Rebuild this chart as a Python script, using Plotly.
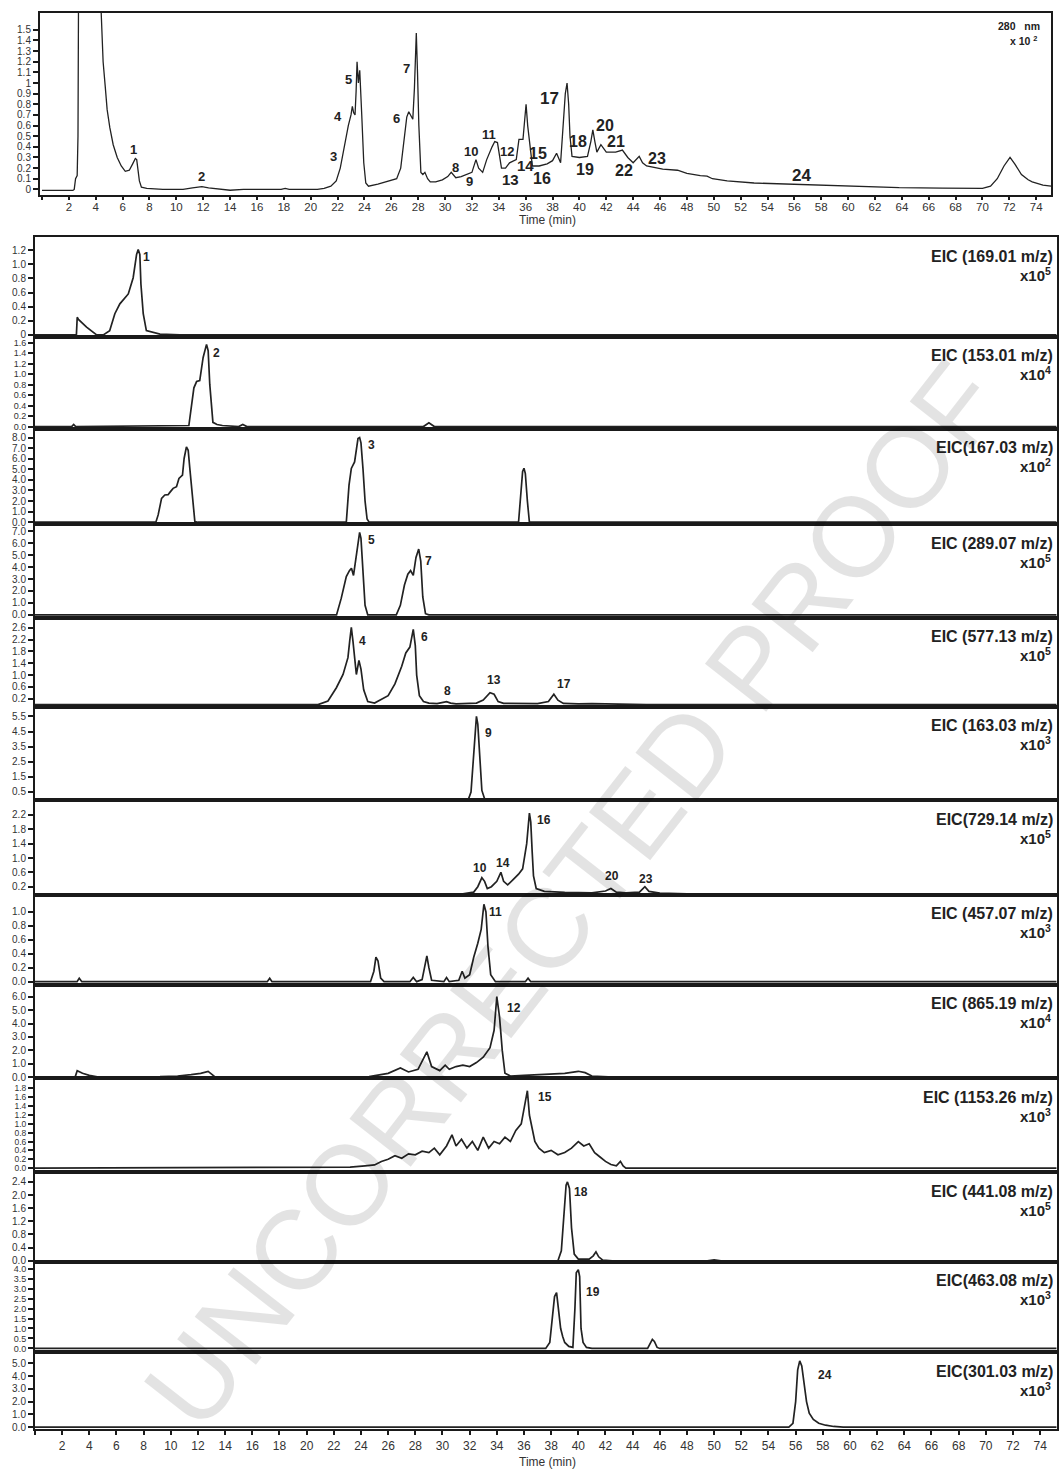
import plotly.graph_objects as go

W, H = 1059, 1478
FONT = "Liberation Sans, Arial, sans-serif"
INK = "#222222"

# ---------------- UV chromatogram (280 nm, x10^2) ----------------
uv_time = [0.0, 2.3, 2.4, 2.5, 2.62, 2.68, 2.72, 3.5, 4.38, 4.45, 4.55, 4.7, 4.85, 5.05,
           5.3, 5.6, 5.9, 6.2, 6.5, 6.75, 6.95, 7.05, 7.15, 7.25, 7.4, 7.8, 9.0, 10.5,
           11.2, 11.9, 12.4, 13.2, 14.0, 15.0, 17.8, 18.1, 18.4, 20.5, 21.0, 21.5, 21.9,
           22.2, 22.5, 22.8, 23.0, 23.1, 23.2, 23.3, 23.38, 23.45, 23.55, 23.65, 23.8,
           23.95, 24.1, 24.3, 25.0, 25.8, 26.4, 26.7, 26.95, 27.15, 27.3, 27.45, 27.6,
           27.72, 27.8, 27.86, 27.95, 28.05, 28.2, 28.35, 28.5, 28.7, 28.9, 29.3, 29.8,
           30.2, 30.46, 30.8, 31.2, 31.6, 32.0, 32.3, 32.5, 32.8, 33.1, 33.5, 33.7, 33.9,
           34.05, 34.2, 34.5, 34.8, 35.3, 35.5, 35.8, 35.95, 36.03, 36.15, 36.3, 36.5,
           37.0, 37.6, 38.0, 38.3, 38.6, 38.8, 38.95, 39.08, 39.2, 39.3, 39.45, 40.0,
           40.6, 40.85, 41.0, 41.15, 41.3, 41.6, 42.0, 42.7, 43.2, 43.6, 44.0, 44.45,
           44.7, 45.0, 46.2, 47.3, 48.0, 49.0, 49.5, 49.9, 51.0, 53.0, 56.4, 58.0, 60.0,
           63.8, 67.0, 70.0, 70.6, 71.1, 71.6, 72.05, 72.4, 72.9, 73.4, 73.7, 74.5, 75.1]
uv_abs = [-0.01, -0.01, 0.0, 0.1, 0.13, 0.5, 1.8, 2.4, 1.75, 1.48, 1.2, 0.98, 0.75, 0.58,
          0.42, 0.3, 0.22, 0.17, 0.18, 0.24, 0.29, 0.28, 0.2, 0.08, 0.02, 0.01, 0.0, 0.0,
          0.015, 0.025, 0.015, 0.0, -0.008, 0.0, 0.0, 0.01, 0.0, 0.0, 0.01, 0.03, 0.08,
          0.2, 0.42, 0.6, 0.7, 0.78, 0.72, 0.7, 0.92, 1.2, 1.0, 1.12, 0.7,
          0.25, 0.06, 0.03, 0.05, 0.08, 0.1, 0.2, 0.45, 0.68, 0.73, 0.7, 0.66,
          0.95, 1.2, 1.47, 1.1, 0.6, 0.16, 0.14, 0.16, 0.1, 0.07, 0.07, 0.09,
          0.12, 0.16, 0.11, 0.12, 0.14, 0.16, 0.28, 0.2, 0.16, 0.28, 0.4, 0.45, 0.44,
          0.3, 0.2, 0.2, 0.25, 0.28, 0.47, 0.47, 0.7, 0.8, 0.6, 0.41, 0.22,
          0.22, 0.24, 0.27, 0.34, 0.25, 0.6, 0.9, 1.0, 0.8, 0.5, 0.31, 0.3,
          0.31, 0.45, 0.56, 0.45, 0.35, 0.42, 0.35, 0.35, 0.37, 0.3, 0.25, 0.31,
          0.25, 0.22, 0.19, 0.18, 0.15, 0.13, 0.125, 0.1, 0.08, 0.06, 0.047, 0.04, 0.03,
          0.016, 0.012, 0.01, 0.03, 0.1, 0.22, 0.3, 0.24, 0.14, 0.09, 0.07, 0.04, 0.03]
uv_ticks = ["0", "0.1", "0.2", "0.3", "0.4", "0.5", "0.6", "0.7", "0.8", "0.9", "1",
            "1.1", "1.2", "1.3", "1.4", "1.5"]
uv_peak_names = ["1", "2", "3", "4", "5", "6", "7", "8", "9", "10", "11", "12", "13",
                 "14", "15", "16", "17", "18", "19", "20", "21", "22", "23", "24"]
uv_peak_t = [6.84, 11.9, 21.7, 22.0, 22.8, 26.4, 27.1, 30.8, 31.8, 31.9, 33.3, 34.6, 34.9,
             36.0, 36.9, 37.2, 37.8, 39.9, 40.4, 41.9, 42.7, 43.3, 45.8, 56.5]
uv_peak_v = [0.375, 0.12, 0.31, 0.69, 1.03, 0.67, 1.14, 0.21, 0.07, 0.36, 0.52, 0.36, 0.09,
             0.22, 0.34, 0.10, 0.85, 0.45, 0.19, 0.6, 0.45, 0.18, 0.29, 0.13]
uv_peak_size = [13, 13, 13, 13, 13, 13, 13, 13, 13, 13, 13, 13, 15,
                15, 16, 16, 17, 16, 16, 16, 16, 16, 16, 17]

time_ticks = list(range(0, 75, 2))

# ---------------- Extracted ion chromatograms ----------------
eic_titles = ["EIC (169.01 m/z)", "EIC (153.01 m/z)", "EIC(167.03 m/z)", "EIC (289.07 m/z)",
              "EIC (577.13 m/z)", "EIC (163.03 m/z)", "EIC(729.14 m/z)", "EIC (457.07 m/z)",
              "EIC (865.19 m/z)", "EIC (1153.26 m/z)", "EIC (441.08 m/z)", "EIC(463.08 m/z)",
              "EIC(301.03 m/z)"]
eic_exponents = ["5", "4", "2", "5", "5", "3", "5", "3", "4", "3", "5", "3", "3"]

eic1_t = [0, 3.05, 3.11, 3.2, 3.8, 4.54, 5.03, 5.5, 5.88, 6.25, 6.87, 7.23, 7.48, 7.6, 7.72,
          7.8, 7.97, 8.2, 9.2, 10.66, 75.2]
eic1_i = [0, 0, 0.25, 0.22, 0.11, 0.0, 0.0, 0.06, 0.3, 0.44, 0.58, 0.81, 1.14, 1.21, 1.14,
          0.72, 0.3, 0.06, 0.01, 0, 0]

eic2_t = [0, 2.7, 2.85, 3.0, 11.33, 11.52, 11.7, 11.9, 12.13, 12.38, 12.63, 12.75, 12.87,
          13.1, 13.4, 13.8, 15.0, 15.3, 15.6, 28.6, 29.0, 29.4, 75.2]
eic2_i = [0, 0, 0.04, 0, 0.02, 0.35, 0.74, 0.86, 0.88, 1.32, 1.57, 1.45, 0.8, 0.08, 0.04,
          0.02, 0.0, 0.04, 0.0, 0.0, 0.07, 0.0, 0]

eic3_t = [0, 8.9, 9.07, 9.32, 9.56, 9.8, 9.93, 10.17, 10.42, 10.6, 10.86, 10.98, 11.15,
          11.28, 11.4, 11.6, 11.77, 12.0, 22.92, 23.12, 23.29, 23.53, 23.78, 23.9, 24.0,
          24.15, 24.3, 24.45, 24.6, 35.6, 35.75, 35.9, 36.0, 36.1, 36.25, 36.4, 75.2]
eic3_i = [0, 0, 0.69, 2.26, 2.57, 2.6, 2.82, 3.2, 3.36, 4.14, 4.45, 6.02, 7.12,
          6.8, 5.08, 1.95, 0.07, 0, 0, 3.5, 5.08, 5.7, 7.9, 8.0, 7.5,
          5.0, 2.0, 0.3, 0, 0, 2.5, 4.8, 5.1, 4.6, 2.0, 0, 0]

eic4_t = [0, 22.2, 22.55, 22.92, 23.15, 23.3, 23.45, 23.6, 23.78, 23.9, 24.0, 24.15, 24.3,
          24.5, 26.6, 26.9, 27.2, 27.45, 27.65, 27.85, 28.05, 28.25, 28.4, 28.55, 28.75,
          29.0, 75.2]
eic4_i = [0, 0, 1.4, 3.2, 3.7, 3.9, 3.3, 4.5, 6.1, 6.9, 6.4, 3.0, 0.8,
          0, 0, 0.8, 2.5, 3.4, 3.7, 3.3, 4.8, 5.5, 4.5, 1.5, 0.1,
          0, 0]

eic5_t = [0, 20.84, 21.57, 22.19, 22.68, 23.04, 23.17, 23.29, 23.41, 23.53, 23.66, 23.85,
          24.0, 24.2, 24.5, 25.0, 26.0, 26.5, 27.0, 27.3, 27.6, 27.85, 28.0, 28.1, 28.3,
          28.6, 29.0, 29.6, 30.0, 30.3, 30.6, 31.0, 32.5, 33.0, 33.5, 33.8, 34.1, 34.5,
          37.0, 37.8, 38.2, 38.5, 38.9, 40.0, 41.0, 43.0, 45.0, 75.2]
eic5_i = [0, 0, 0.12, 0.57, 1.02, 1.59, 2.15, 2.62, 2.15, 1.59, 1.02, 1.5,
          1.2, 0.5, 0.1, 0.05, 0.3, 0.7, 1.3, 1.75, 1.95, 2.55, 2.0, 1.0, 0.3,
          0.1, 0.05, 0.03, 0.06, 0.1, 0.05, 0.02, 0.05, 0.15, 0.4, 0.35, 0.1, 0.04,
          0.03, 0.1, 0.35, 0.15, 0.04, 0.02, 0.03, 0.01, 0, 0]

eic6_t = [0, 31.9, 32.1, 32.25, 32.4, 32.5, 32.6, 32.75, 32.9, 33.1, 33.4, 75.2]
eic6_i = [0, 0, 0.5, 2.5, 4.8, 5.5, 5.0, 2.5, 0.6, 0.05, 0, 0]

eic7_t = [0, 31.5, 32.3, 32.6, 32.9, 33.1, 33.3, 33.6, 34.0, 34.3, 34.5, 34.8, 35.2, 35.6,
          35.9, 36.2, 36.4, 36.5, 36.6, 36.7, 36.9, 37.5, 39.0, 41.0, 42.0, 42.4, 42.8,
          43.5, 44.5, 44.9, 45.2, 46.0, 48.0, 75.2]
eic7_i = [0, 0, 0.05, 0.2, 0.45, 0.35, 0.15, 0.2, 0.35, 0.6, 0.35, 0.25, 0.4, 0.55,
          0.7, 1.4, 2.25, 2.0, 1.2, 0.5, 0.15, 0.07, 0.04, 0.03, 0.08, 0.15, 0.05,
          0.03, 0.05, 0.2, 0.07, 0.02, 0, 0]

eic8_t = [0, 3.1, 3.26, 3.45, 17.1, 17.28, 17.45, 24.7, 24.95, 25.1, 25.25, 25.45, 25.7,
          27.6, 27.85, 28.1, 28.5, 28.7, 28.85, 29.0, 29.2, 30.1, 30.3, 30.5, 31.2, 31.45,
          31.65, 32.0, 32.3, 32.6, 32.85, 33.05, 33.2, 33.35, 33.55, 33.9, 36.1, 36.3,
          36.5, 75.2]
eic8_i = [0, 0, 0.05, 0, 0, 0.05, 0, 0, 0.15, 0.35, 0.3, 0.05, 0,
          0, 0.06, 0.0, 0.03, 0.25, 0.37, 0.2, 0.02, 0, 0.06, 0, 0.02, 0.15,
          0.05, 0.1, 0.35, 0.55, 0.75, 1.11, 1.0, 0.5, 0.1, 0.0, 0, 0.05,
          0, 0]

eic9_t = [0, 2.95, 3.11, 3.5, 4.0, 4.78, 9.2, 10.5, 11.5, 12.2, 12.75, 13.0, 13.3, 24.6,
          26.0, 26.9, 27.5, 28.2, 28.85, 29.2, 29.8, 30.2, 30.5, 31.0, 31.5, 32.0, 32.5,
          33.0, 33.5, 33.8, 34.0, 34.2, 34.4, 34.6, 35.0, 36.0, 37.5, 39.0, 40.0, 40.5,
          41.0, 42.0, 43.0, 75.2]
eic9_i = [0, 0, 0.5, 0.3, 0.15, 0, 0.05, 0.1, 0.2, 0.3, 0.44, 0.25, 0, 0.05,
          0.3, 0.7, 0.4, 0.6, 1.9, 0.8, 0.5, 0.9, 0.6, 0.8, 0.9, 0.8, 1.1,
          1.5, 2.2, 3.5, 6.0, 4.5, 2.0, 0.3, 0.1, 0.15, 0.2, 0.3, 0.45, 0.35,
          0.1, 0.05, 0, 0]

eic10_t = [0, 23.2, 24.3, 25.0, 25.5, 26.0, 26.5, 27.0, 27.5, 28.0, 28.5, 29.0, 29.4, 29.8,
           30.3, 30.7, 31.0, 31.4, 31.8, 32.2, 32.6, 33.0, 33.4, 33.8, 34.2, 34.6, 35.0,
           35.4, 35.8, 36.0, 36.25, 36.4, 36.6, 36.8, 37.1, 37.5, 38.0, 38.5, 39.0, 39.5,
           40.0, 40.4, 40.8, 41.2, 41.6, 42.0, 42.4, 42.8, 43.1, 43.3, 43.5, 75.2]
eic10_i = [0, 0.02, 0.05, 0.07, 0.15, 0.2, 0.28, 0.22, 0.32, 0.3, 0.38, 0.35, 0.45, 0.3,
           0.5, 0.75, 0.5, 0.65, 0.45, 0.6, 0.4, 0.7, 0.45, 0.6, 0.55, 0.7, 0.6,
           0.85, 1.0, 1.3, 1.75, 1.2, 0.9, 0.6, 0.45, 0.35, 0.4, 0.3, 0.35, 0.45,
           0.6, 0.5, 0.55, 0.35, 0.25, 0.15, 0.08, 0.05, 0.15, 0.05, 0, 0]

eic11_t = [0, 38.5, 38.75, 38.95, 39.1, 39.2, 39.35, 39.5, 39.7, 40.0, 40.8, 41.1, 41.3,
           41.5, 41.8, 42.5, 49.5, 50.0, 50.5, 75.2]
eic11_i = [0, 0, 0.3, 1.5, 2.3, 2.4, 2.2, 1.0, 0.2, 0.05, 0.05, 0.15, 0.27,
           0.12, 0.02, 0, 0, 0.03, 0, 0]

eic12_t = [0, 37.6, 37.9, 38.1, 38.25, 38.4, 38.55, 38.7, 38.85, 39.0, 39.3, 39.6, 39.75,
           39.85, 40.0, 40.1, 40.2, 40.35, 40.6, 41.0, 45.1, 45.3, 45.45, 45.6, 45.8, 46.0,
           75.2]
eic12_i = [0, 0, 0.3, 1.5, 2.6, 2.8, 2.0, 1.0, 0.6, 0.3, 0.1, 0.05, 2.0,
           3.8, 3.95, 3.6, 1.0, 0.3, 0.05, 0, 0, 0.3, 0.45, 0.35, 0.05, 0,
           0]

eic13_t = [0, 55.5, 55.8, 56.0, 56.15, 56.3, 56.45, 56.6, 56.8, 57.0, 57.3, 57.7, 58.2,
           58.8, 59.5, 75.2]
eic13_i = [0, 0, 0.3, 2.0, 4.5, 5.2, 4.8, 3.5, 2.0, 1.1, 0.6, 0.3, 0.15,
           0.05, 0, 0]

eic_times = [eic1_t, eic2_t, eic3_t, eic4_t, eic5_t, eic6_t, eic7_t, eic8_t, eic9_t,
             eic10_t, eic11_t, eic12_t, eic13_t]
eic_values = [eic1_i, eic2_i, eic3_i, eic4_i, eic5_i, eic6_i, eic7_i, eic8_i, eic9_i,
              eic10_i, eic11_i, eic12_i, eic13_i]

eic_ticks = [
    ["0", "0.2", "0.4", "0.6", "0.8", "1.0", "1.2"],
    ["0.0", "0.2", "0.4", "0.6", "0.8", "1.0", "1.2", "1.4", "1.6"],
    ["0.0", "1.0", "2.0", "3.0", "4.0", "5.0", "6.0", "7.0", "8.0"],
    ["0.0", "1.0", "2.0", "3.0", "4.0", "5.0", "6.0", "7.0"],
    ["0.2", "0.6", "1.0", "1.4", "1.8", "2.2", "2.6"],
    ["0.5", "1.5", "2.5", "3.5", "4.5", "5.5"],
    ["0.2", "0.6", "1.0", "1.4", "1.8", "2.2"],
    ["0.0", "0.2", "0.4", "0.6", "0.8", "1.0"],
    ["0.0", "1.0", "2.0", "3.0", "4.0", "5.0", "6.0"],
    ["0.0", "0.2", "0.4", "0.6", "0.8", "1.0", "1.2", "1.4", "1.6", "1.8"],
    ["0.0", "0.4", "0.8", "1.2", "1.6", "2.0", "2.4"],
    ["0.0", "0.5", "1.0", "1.5", "2.0", "2.5", "3.0", "3.5", "4.0"],
    ["0.0", "1.0", "2.0", "3.0", "4.0", "5.0"],
]

# peak numbers drawn beside each EIC peak: (label, time, intensity)
eic_peaks = [
    [("1", 8.24, 1.10)],
    [("2", 13.39, 1.41)],
    [("3", 24.78, 7.25)],
    [("5", 24.78, 6.25), ("7", 28.98, 4.5)],
    [("4", 24.12, 2.16), ("6", 28.68, 2.30), ("8", 30.37, 0.47), ("13", 33.76, 0.84),
     ("17", 38.98, 0.71)],
    [("9", 33.39, 4.43)],
    [("16", 37.51, 2.06), ("10", 32.73, 0.72), ("14", 34.42, 0.86), ("20", 42.51, 0.5),
     ("23", 45.01, 0.42)],
    [("11", 33.9, 1.0)],
    [("12", 35.3, 5.19)],
    [("15", 37.58, 1.6)],
    [("18", 40.23, 2.1)],
    [("19", 41.11, 2.85)],
    [("24", 58.17, 4.06)],
]

# ---------------- layout geometry (pixels) ----------------
top_box = (40, 1052, 13, 196)            # left, right, top, bottom
eic_left, eic_right = 35, 1058
panel_edges = [238, 338, 430, 526, 620, 709, 803, 898, 988, 1082, 1176, 1266, 1357, 1434]
eic_ranges = [(-0.028, 1.384), (-0.038, 1.714), (-0.19, 8.85), (-0.25, 7.58),
              (-0.07, 2.94), (-0.05, 6.15), (-0.03, 2.61), (-0.043, 1.243),
              (-0.074, 6.89), (-0.09, 2.03), (-0.03, 2.7), (-0.2, 4.35), (-0.16, 5.86)]
eic_tick_font = [10, 9, 10, 10, 10, 10, 10, 10, 10, 8.5, 10, 9, 10]


def px_x(p):
    return p / W


def px_y(p):
    return 1 - p / H


fig = go.Figure()

axis_line = dict(showline=True, linecolor="#1a1a1a", linewidth=2, mirror=True,
                 showgrid=False, zeroline=False)

# top UV panel
fig.add_trace(go.Scatter(x=uv_time, y=uv_abs, mode="lines", xaxis="x", yaxis="y",
                         line=dict(color=INK, width=1.3), showlegend=False,
                         hoverinfo="skip"))
layout = dict(
    width=W, height=H, margin=dict(l=0, r=0, t=0, b=0),
    paper_bgcolor="white", plot_bgcolor="white",
    font=dict(family=FONT, color=INK),
    showlegend=False,
)
layout["xaxis"] = dict(domain=[px_x(top_box[0]), px_x(top_box[1])], range=[-0.15, 75.1],
                       anchor="y", tickvals=time_ticks,
                       ticktext=[("" if t == 0 else str(t)) for t in time_ticks],
                       ticks="outside", ticklen=3, tickwidth=1.5, tickcolor="#1a1a1a",
                       ticklabelstandoff=-3,
                       tickfont=dict(size=11.5, color="#333"), **axis_line)
layout["yaxis"] = dict(domain=[px_y(top_box[3]), px_y(top_box[2])], range=[-0.056, 1.659],
                       anchor="x", tickvals=[float(v) for v in uv_ticks], ticktext=uv_ticks,
                       ticks="outside", ticklen=5, tickwidth=2, tickcolor="#1a1a1a",
                       tickfont=dict(size=10, color="#333"), **axis_line)

annotations = []
for name, t, v, s in zip(uv_peak_names, uv_peak_t, uv_peak_v, uv_peak_size):
    annotations.append(dict(x=t, y=v, xref="x", yref="y", text=f"<b>{name}</b>",
                            showarrow=False, xanchor="center", yanchor="middle",
                            font=dict(size=s, color=INK)))
annotations.append(dict(x=px_x(1043), y=px_y(26), xref="paper", yref="paper",
                        text="<b>280   nm</b>", showarrow=False, xanchor="right",
                        yanchor="middle", font=dict(size=10.5, color=INK)))
annotations.append(dict(x=px_x(1040), y=px_y(41), xref="paper", yref="paper",
                        text="<b>x 10 <sup>2</sup></b>", showarrow=False, xanchor="right",
                        yanchor="middle", font=dict(size=10.5, color=INK)))
annotations.append(dict(x=px_x(548), y=px_y(221), xref="paper", yref="paper",
                        text="Time (min)", showarrow=False, xanchor="center",
                        yanchor="middle", font=dict(size=12, color="#333")))

# EIC panels
n_eic = len(eic_titles)
for i in range(n_eic):
    k = i + 2
    xa, ya = f"x{k}", f"y{k}"
    fig.add_trace(go.Scatter(x=eic_times[i], y=eic_values[i], mode="lines",
                             xaxis=xa, yaxis=ya, line=dict(color=INK, width=1.7),
                             showlegend=False, hoverinfo="skip"))
    last = i == n_eic - 1
    xdef = dict(domain=[px_x(eic_left), px_x(eic_right)], range=[0, 75.24], anchor=ya,
                **axis_line)
    if last:
        xdef.update(tickvals=time_ticks,
                    ticktext=[("" if t == 0 else str(t)) for t in time_ticks],
                    ticks="outside", ticklen=4, tickwidth=1.5, tickcolor="#1a1a1a",
                    tickfont=dict(size=12, color="#333"))
    else:
        xdef.update(showticklabels=False, ticks="")
    layout[f"xaxis{k}"] = xdef
    layout[f"yaxis{k}"] = dict(
        domain=[px_y(panel_edges[i + 1]), px_y(panel_edges[i])],
        range=list(eic_ranges[i]), anchor=xa,
        tickvals=[float(v) for v in eic_ticks[i]], ticktext=eic_ticks[i],
        ticks="outside", ticklen=5, tickwidth=1.5, tickcolor="#1a1a1a",
        tickfont=dict(size=eic_tick_font[i], color="#333"), **axis_line)
    annotations.append(dict(x=px_x(1056), y=1, xref="paper", yref=f"{ya} domain",
                            yanchor="middle", yshift=-19, xanchor="right",
                            text=f"<b>{eic_titles[i]}</b>",
                            showarrow=False, font=dict(size=16, color=INK)))
    annotations.append(dict(x=px_x(1054), y=1, xref="paper", yref=f"{ya} domain",
                            yanchor="middle", yshift=-37, xanchor="right",
                            text=f"<b>x10<sup>{eic_exponents[i]}</sup></b>",
                            showarrow=False, font=dict(size=15, color=INK)))
    for lab, t, v in eic_peaks[i]:
        annotations.append(dict(x=t, y=v, xref=xa, yref=ya, text=f"<b>{lab}</b>",
                                showarrow=False, xanchor="center", yanchor="middle",
                                font=dict(size=12, color=INK)))

annotations.append(dict(x=px_x(548), y=px_y(1467), xref="paper", yref="paper",
                        text="Time (min)", showarrow=False, xanchor="center",
                        yanchor="middle", font=dict(size=12, color="#333")))

# proof watermark across the stacked panels
annotations.append(dict(x=px_x(574), y=px_y(898), xref="paper", yref="paper",
                        text="UNCORRECTED PROOF", showarrow=False, textangle=-52,
                        xanchor="center", yanchor="middle",
                        font=dict(size=113, color="rgba(0,0,0,0.11)", family=FONT)))

layout["annotations"] = annotations
fig.update_layout(**layout)
fig.write_html("out.html")
